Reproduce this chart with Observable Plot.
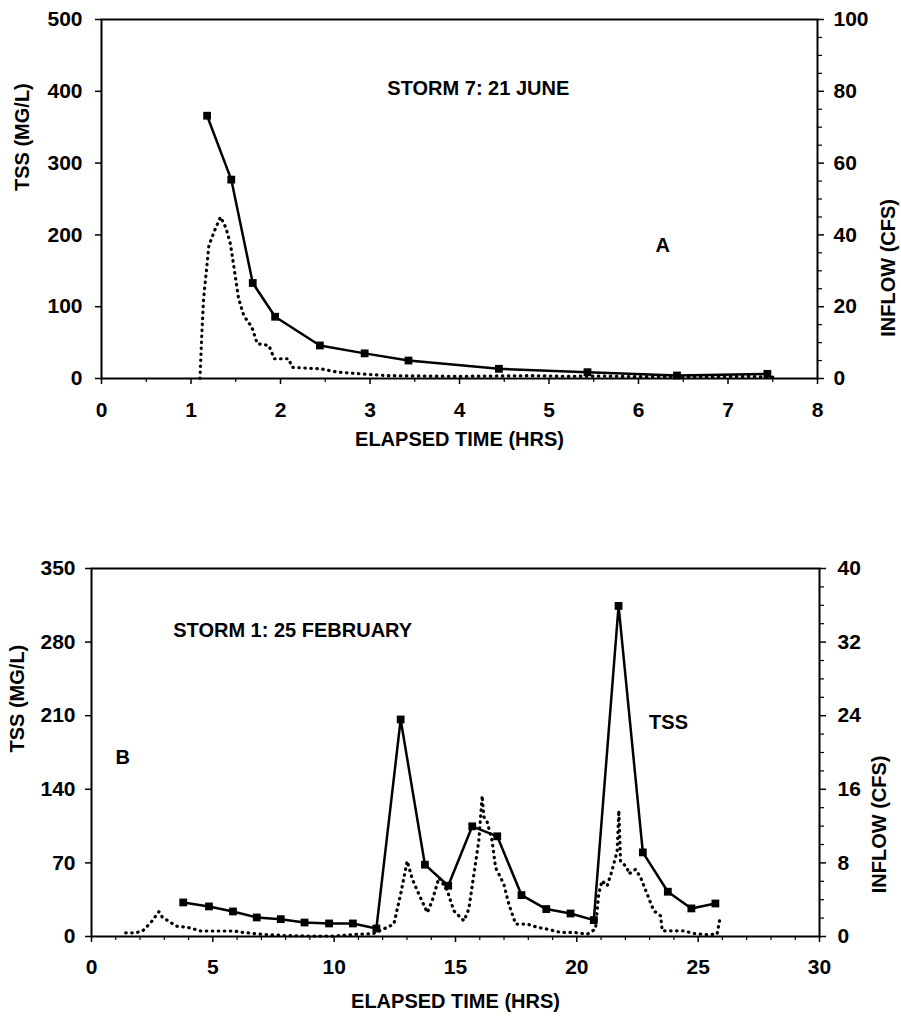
<!DOCTYPE html>
<html><head><meta charset="utf-8">
<script src="https://cdn.jsdelivr.net/npm/d3@7"></script>
<script src="https://cdn.jsdelivr.net/npm/@observablehq/plot@0.6"></script>
<style>
body{margin:0;background:#fff;}
#chart svg{display:block;}
</style></head><body><div id="chart"></div>
<script>
// ---------- Panel A: Storm 7, 21 June ----------
const aTssTime = [1.18, 1.45, 1.69, 1.94, 2.44, 2.94, 3.43, 4.44, 5.43, 6.43, 7.44];
const aTss     = [366, 277, 133, 86, 46, 35, 25, 13.5, 8.8, 4.2, 6.5];
const aFlowTime = [1.10, 1.12, 1.14, 1.20, 1.26, 1.33, 1.39, 1.44, 1.48, 1.53, 1.59, 1.68, 1.74, 1.87, 1.93, 2.09, 2.13, 2.45, 2.63, 2.89, 3.2, 3.6, 4.0, 4.4, 4.8, 5.2, 5.6, 6.0, 6.4, 6.8, 7.2, 7.5];
const aFlow     = [0, 12, 22, 37, 41, 45, 42, 37.5, 31, 22.5, 17.5, 14.3, 9.7, 9.2, 5.5, 5.5, 3.1, 2.7, 1.8, 1.3, 0.8, 0.7, 0.6, 0.7, 0.8, 0.6, 0.7, 0.5, 0.6, 0.5, 0.6, 0.4];
const aXTicks = [0, 1, 2, 3, 4, 5, 6, 7, 8];
const aXMinor = [0.5, 1.5, 2.5, 3.5, 4.5, 5.5, 6.5, 7.5];
const aYTicks = [0, 100, 200, 300, 400, 500];
const aY2Ticks = [0, 20, 40, 60, 80, 100];
const aY2Minor = [5, 10, 15, 25, 30, 35, 45, 50, 55, 65, 70, 75, 85, 90, 95];

// ---------- Panel B: Storm 1, 25 February ----------
const bTssTime = [3.78, 4.84, 5.83, 6.81, 7.80, 8.78, 9.79, 10.77, 11.74, 12.74, 13.74, 14.70, 15.69, 16.72, 17.72, 18.74, 19.74, 20.70, 21.72, 22.72, 23.75, 24.72, 25.71];
const bTss     = [32.4, 28.6, 23.8, 18.1, 16.5, 13.3, 12.4, 12.4, 7.6, 206.4, 68.3, 48.3, 104.8, 95.3, 39.4, 26.1, 21.9, 15.6, 314.4, 80, 42.6, 26.7, 31.4];
const bFlowTime = [1.41, 1.82, 2.10, 2.44, 2.78, 2.92, 3.27, 3.54, 3.95, 4.50, 5.87, 6.22, 6.97, 8.0, 9.0, 10.0, 11.09, 11.6, 12.19, 12.46, 12.74, 13.01, 13.22, 13.49, 13.84, 14.04, 14.32, 14.66, 14.93, 15.35, 15.55, 15.76, 15.96, 16.10, 16.17, 16.30, 16.51, 16.65, 16.99, 17.20, 17.48, 17.96, 18.37, 18.78, 19.33, 19.88, 20.43, 20.77, 20.90, 21.04, 21.25, 21.45, 21.66, 21.73, 21.80, 22.07, 22.14, 22.42, 22.63, 22.90, 23.17, 23.45, 23.52, 23.99, 24.40, 24.82, 25.37, 25.78, 25.88];
const bFlow     = [0.4, 0.4, 0.6, 1.5, 2.7, 2.1, 1.5, 1.1, 1.0, 0.6, 0.6, 0.45, 0.25, 0.1, 0.05, 0.05, 0.26, 0.3, 1.0, 1.35, 4.6, 8.2, 6.25, 4.6, 2.6, 3.9, 6.4, 5.0, 2.8, 1.7, 3.0, 6.8, 10.4, 15.3, 13.0, 12.5, 10.4, 7.5, 5.7, 3.5, 1.35, 1.35, 1.0, 0.8, 0.44, 0.44, 0.26, 0.8, 4.6, 6.06, 5.5, 7.15, 9.3, 13.7, 8.2, 7.5, 6.8, 7.3, 6.4, 4.6, 2.8, 2.25, 0.62, 0.62, 0.62, 0.33, 0.2, 0.26, 1.7];
const bXTicks = [0, 5, 10, 15, 20, 25, 30];
const bXMinor = [1,2,3,4,6,7,8,9,11,12,13,14,16,17,18,19,21,22,23,24,26,27,28,29];
const bYTicks = [0, 70, 140, 210, 280, 350];
const bY2Ticks = [0, 8, 16, 24, 32, 40];
const bY2Minor = [2, 4, 6, 10, 12, 14, 18, 20, 22, 26, 28, 30, 34, 36, 38];

const FONT = "'Liberation Sans', Arial, Helvetica, sans-serif";

function panel(cfg) {
  const k = cfg.yMax / cfg.y2Max; // inflow -> TSS units
  const tss = cfg.tssTime.map((t, i) => ({t, v: cfg.tss[i]}));
  const flow = cfg.flowTime.map((t, i) => ({t, v: cfg.flow[i] * k}));
  return Plot.plot({
    width: 901,
    height: cfg.height,
    marginTop: cfg.mt, marginBottom: cfg.mb, marginLeft: cfg.ml, marginRight: cfg.mr,
    style: {fontFamily: FONT, fontSize: "20px", fontWeight: "bold", background: "#fff", color: "#000", overflow: "visible"},
    x: {domain: [0, cfg.xMax]},
    y: {domain: [0, cfg.yMax]},
    marks: [
      Plot.axisX({ticks: cfg.xTicks, tickSize: 6, tickPadding: cfg.xPad, strokeWidth: 1.5, label: null, fontSize: 21}),
      Plot.axisX({ticks: cfg.xMinor, tickSize: 4, strokeWidth: 1.2, tickFormat: () => "", label: null}),
      Plot.axisY({ticks: cfg.yTicks, tickSize: 6, tickPadding: cfg.yPad, strokeWidth: 1.5, label: null, fontSize: 21}),
      Plot.axisY({anchor: "right", ticks: cfg.y2Ticks.map(v => v * k), tickFormat: d => String(Math.round(d / k)), tickSize: 6, tickPadding: cfg.y2Pad, strokeWidth: 1.5, label: null, fontSize: 21}),
      Plot.axisY({anchor: "right", ticks: cfg.y2Minor.map(v => v * k), tickFormat: () => "", tickSize: 4, strokeWidth: 1.2, label: null}),
      Plot.frame({strokeWidth: 2}),
      Plot.line(flow, {x: "t", y: "v", stroke: "#000", strokeWidth: 3.2, strokeDasharray: "0.5,5.5", strokeLinecap: "round", curve: "linear"}),
      Plot.line(tss, {x: "t", y: "v", stroke: "#000", strokeWidth: 2.5}),
      Plot.dot(tss, {x: "t", y: "v", symbol: "square", r: 4.4, fill: "#000", stroke: null}),
      Plot.text([cfg.leftLabel], {text: d => d, frameAnchor: "left", rotate: -90, dx: cfg.leftLabelDx, dy: cfg.leftLabelDy, fontSize: 20}),
      Plot.text([cfg.rightLabel], {text: d => d, frameAnchor: "right", rotate: -90, dx: cfg.rightLabelDx, dy: cfg.rightLabelDy, fontSize: 20}),
      Plot.text([cfg.xLabel], {text: d => d, frameAnchor: "bottom", dy: cfg.xLabelDy, fontSize: 20}),
      ...cfg.notes.map(n => Plot.text([n], {x: n.x, y: n.y, text: d => d.text, fontSize: 20}))
    ]
  });
}

const root = document.getElementById("chart");
root.append(panel({
  height: 470, mt: 19, mb: 92, ml: 101, mr: 84,
  xMax: 8, yMax: 500, y2Max: 100,
  tssTime: aTssTime, tss: aTss, flowTime: aFlowTime, flow: aFlow,
  xTicks: aXTicks, xMinor: aXMinor, yTicks: aYTicks, y2Ticks: aY2Ticks, y2Minor: aY2Minor,
  xPad: 18, yPad: 13, y2Pad: 10,
  leftLabel: "TSS (MG/L)", leftLabelDx: -79, leftLabelDy: -8,
  rightLabel: "INFLOW (CFS)", rightLabelDx: 71, rightLabelDy: 0,
  xLabel: "ELAPSED TIME (HRS)", xLabelDy: 67,
  notes: [{x: 4.21, y: 404, text: "STORM 7: 21 JUNE"}, {x: 6.27, y: 185, text: "A"}]
}));
root.append(panel({
  height: 546, mt: 98, mb: 80, ml: 91, mr: 82,
  xMax: 30, yMax: 350, y2Max: 40,
  tssTime: bTssTime, tss: bTss, flowTime: bFlowTime, flow: bFlow,
  xTicks: bXTicks, xMinor: bXMinor, yTicks: bYTicks, y2Ticks: bY2Ticks, y2Minor: bY2Minor,
  xPad: 17, yPad: 10, y2Pad: 12,
  leftLabel: "TSS (MG/L)", leftLabelDx: -74, leftLabelDy: 0,
  rightLabel: "INFLOW (CFS)", rightLabelDx: 60, rightLabelDy: 3,
  xLabel: "ELAPSED TIME (HRS)", xLabelDy: 71,
  notes: [{x: 8.29, y: 291, text: "STORM 1: 25 FEBRUARY"}, {x: 1.29, y: 170, text: "B"}, {x: 23.78, y: 203, text: "TSS"}]
}));
</script></body></html>
